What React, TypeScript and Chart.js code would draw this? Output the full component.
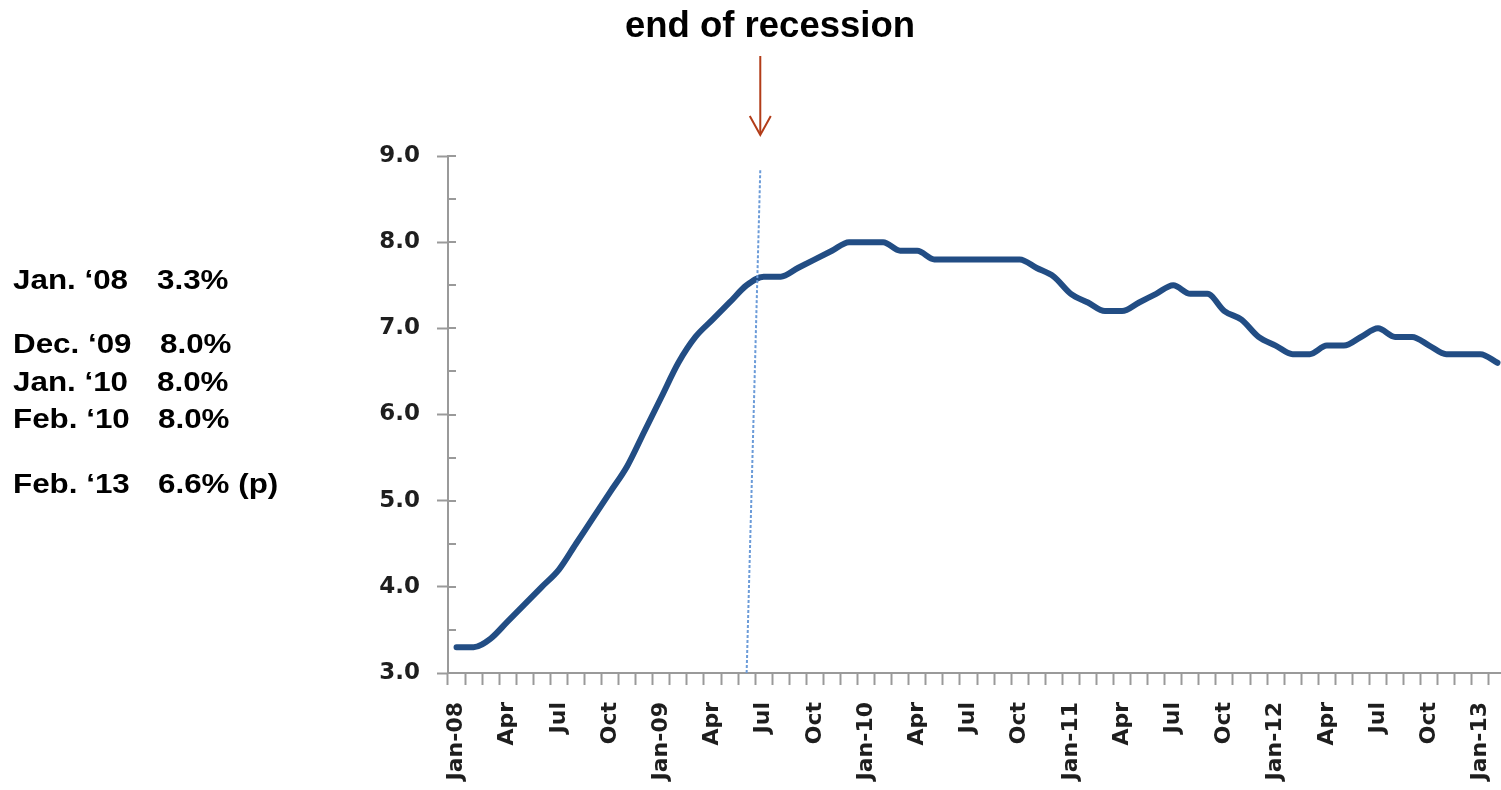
import React, { useEffect, useRef } from 'react';
import { Chart, registerables } from 'chart.js';

Chart.register(...registerables);

// ---------- DATA ----------
const categories = [
  'Jan-08', 'Feb-08', 'Mar-08', 'Apr-08', 'May-08', 'Jun-08', 'Jul-08', 'Aug-08', 'Sep-08', 'Oct-08', 'Nov-08', 'Dec-08',
  'Jan-09', 'Feb-09', 'Mar-09', 'Apr-09', 'May-09', 'Jun-09', 'Jul-09', 'Aug-09', 'Sep-09', 'Oct-09', 'Nov-09', 'Dec-09',
  'Jan-10', 'Feb-10', 'Mar-10', 'Apr-10', 'May-10', 'Jun-10', 'Jul-10', 'Aug-10', 'Sep-10', 'Oct-10', 'Nov-10', 'Dec-10',
  'Jan-11', 'Feb-11', 'Mar-11', 'Apr-11', 'May-11', 'Jun-11', 'Jul-11', 'Aug-11', 'Sep-11', 'Oct-11', 'Nov-11', 'Dec-11',
  'Jan-12', 'Feb-12', 'Mar-12', 'Apr-12', 'May-12', 'Jun-12', 'Jul-12', 'Aug-12', 'Sep-12', 'Oct-12', 'Nov-12', 'Dec-12',
  'Jan-13', 'Feb-13',
];

const tickLabels = [
  'Jan-08', '', '', 'Apr', '', '', 'Jul', '', '', 'Oct', '', '',
  'Jan-09', '', '', 'Apr', '', '', 'Jul', '', '', 'Oct', '', '',
  'Jan-10', '', '', 'Apr', '', '', 'Jul', '', '', 'Oct', '', '',
  'Jan-11', '', '', 'Apr', '', '', 'Jul', '', '', 'Oct', '', '',
  'Jan-12', '', '', 'Apr', '', '', 'Jul', '', '', 'Oct', '', '',
  'Jan-13', '',
];

const unemploymentRate = [
  3.3, 3.3, 3.4, 3.6, 3.8, 4.0, 4.2, 4.5, 4.8, 5.1, 5.4, 5.8,
  6.2, 6.6, 6.9, 7.1, 7.3, 7.5, 7.6, 7.6, 7.7, 7.8, 7.9, 8.0,
  8.0, 8.0, 7.9, 7.9, 7.8, 7.8, 7.8, 7.8, 7.8, 7.8, 7.7, 7.6,
  7.4, 7.3, 7.2, 7.2, 7.3, 7.4, 7.5, 7.4, 7.4, 7.2, 7.1, 6.9,
  6.8, 6.7, 6.7, 6.8, 6.8, 6.9, 7.0, 6.9, 6.9, 6.8, 6.7, 6.7,
  6.7, 6.6,
];

const yMin = 3;
const yMax = 9;
const yStep = 0.5;

// recession marker: bottom at Jun-09 on the axis, top slightly to the right
const recessionIndex = 17;
const recessionTopIndex = 17.8;
const recessionTopValue = 8.84;

const noteLabels = ['Jan. \u201808', 'Dec. \u201809', 'Jan. \u201810', 'Feb. \u201810', 'Feb. \u201813'];
const noteValues = ['3.3%', '8.0%', '8.0%', '8.0%', '6.6% (p)'];
const noteTops = [266, 330, 368, 405, 470];
const noteValueLefts = [157, 160, 157, 158, 158];

const titleText = 'end of recession';

// ---------- COMPONENT ----------
const CANVAS_W = 1510;
const CANVAS_H = 790;

export default function App() {
  const canvasRef = useRef<HTMLCanvasElement | null>(null);

  useEffect(() => {
    const canvas = canvasRef.current;
    if (!canvas) return;

    const axisGray = '#9a9a9a';

    const recessionPlugin = {
      id: 'recessionMarker',
      afterDatasetsDraw(chart: any) {
        const { ctx, scales } = chart;
        const xs = scales.x;
        const ys = scales.y;
        const xb = xs.getPixelForValue(recessionIndex);
        const yb = ys.getPixelForValue(yMin);
        const xt = xs.getPixelForValue(recessionTopIndex);
        const yt = ys.getPixelForValue(recessionTopValue);
        ctx.save();
        ctx.strokeStyle = '#6b9bd8';
        ctx.lineWidth = 2;
        ctx.setLineDash([3, 2]);
        ctx.beginPath();
        ctx.moveTo(xb, yb);
        ctx.lineTo(xt, yt);
        ctx.stroke();

        // arrow pointing down at the marker
        ctx.setLineDash([]);
        ctx.strokeStyle = '#b23c18';
        ctx.lineWidth = 2;
        ctx.beginPath();
        ctx.moveTo(xt, 56);
        ctx.lineTo(xt, 134);
        ctx.stroke();
        ctx.beginPath();
        ctx.moveTo(xt - 10.5, 116);
        ctx.lineTo(xt, 135);
        ctx.lineTo(xt + 10.5, 116);
        ctx.stroke();
        ctx.restore();
      },
    };

    const yRightTicks = {
      id: 'yRightTicks',
      afterDraw(chart: any) {
        const { ctx, scales } = chart;
        const ys = scales.y;
        const left = chart.chartArea.left;
        ctx.save();
        ctx.strokeStyle = axisGray;
        ctx.lineWidth = 2;
        ys.ticks.forEach((t: any) => {
          const py = Math.round(ys.getPixelForValue(t.value));
          ctx.beginPath();
          ctx.moveTo(left, py);
          ctx.lineTo(left + 8, py);
          ctx.stroke();
        });
        ctx.restore();
      },
    };

    const chart = new Chart(canvas, {
      type: 'line',
      data: {
        labels: categories,
        datasets: [
          {
            data: unemploymentRate,
            borderColor: '#224d84',
            borderWidth: 6,
            pointRadius: 0,
            cubicInterpolationMode: 'monotone',
            fill: false,
            borderJoinStyle: 'round',
            borderCapStyle: 'round',
          },
        ],
      },
      options: {
        responsive: false,
        animation: false,
        layout: { padding: { top: 156, right: 4, left: 0, bottom: 0 } },
        plugins: {
          legend: { display: false },
          tooltip: { enabled: false },
          title: { display: false },
        },
        scales: {
          x: {
            type: 'category',
            offset: true,
            grid: {
              offset: true,
              drawOnChartArea: false,
              drawTicks: true,
              tickLength: 12,
              tickColor: axisGray,
              tickWidth: 2,
            },
            border: { display: true, color: axisGray, width: 2 },
            ticks: {
              autoSkip: false,
              minRotation: 90,
              maxRotation: 90,
              padding: 17,
              color: '#1e1e1e',
              font: { family: 'DejaVu Sans', size: 22, weight: 'bold' },
              callback: (_v: any, i: number) => tickLabels[i],
            },
            afterFit: (scale: any) => {
              scale.height = 117;
              scale.paddingLeft = 0;
              scale.paddingRight = 0;
            },
          },
          y: {
            min: yMin,
            max: yMax,
            grid: {
              drawOnChartArea: false,
              drawTicks: true,
              tickLength: 11,
              tickWidth: 2,
              tickColor: (c: any) => (c.tick && Math.abs(c.tick.value % 1) < 1e-6 ? axisGray : 'rgba(0,0,0,0)'),
            },
            border: { display: true, color: axisGray, width: 2 },
            ticks: {
              stepSize: yStep,
              padding: 17,
              color: '#1e1e1e',
              font: { family: 'DejaVu Sans', size: 23, weight: 'bold' },
              callback: (v: any) => (Math.abs(Number(v) % 1) < 1e-6 ? Number(v).toFixed(1) : ''),
            },
            afterFit: (scale: any) => {
              scale.width = 448;
              scale.paddingTop = 0;
              scale.paddingBottom = 0;
            },
          },
        },
      },
      plugins: [recessionPlugin, yRightTicks],
    } as any);

    return () => {
      chart.destroy();
    };
  }, []);

  const noteFont: React.CSSProperties = {
    position: 'absolute',
    fontFamily: '"Liberation Sans", Arial, sans-serif',
    fontWeight: 'bold',
    fontSize: 28,
    lineHeight: '28px',
    color: '#000',
    whiteSpace: 'nowrap',
    transform: 'scaleX(1.12)',
    transformOrigin: 'left top',
  };

  return (
    <div
      style={{
        position: 'fixed',
        left: 0,
        top: 0,
        width: 1501,
        height: 790,
        overflow: 'hidden',
        background: '#fff',
      }}
    >
      <canvas
        ref={canvasRef}
        width={CANVAS_W}
        height={CANVAS_H}
        style={{ position: 'absolute', left: 0, top: 0, width: CANVAS_W, height: CANVAS_H }}
      />
      <div
        style={{
          position: 'absolute',
          left: 570,
          width: 400,
          top: 7,
          textAlign: 'center',
          fontFamily: '"Liberation Sans", Arial, sans-serif',
          fontWeight: 'bold',
          fontSize: 36.5,
          lineHeight: '36px',
          color: '#000',
          whiteSpace: 'nowrap',
        }}
      >
        {titleText}
      </div>
      {noteLabels.map((lab, i) => (
        <React.Fragment key={lab}>
          <div style={{ ...noteFont, left: 13, top: noteTops[i] }}>{lab}</div>
          <div style={{ ...noteFont, left: noteValueLefts[i], top: noteTops[i] }}>{noteValues[i]}</div>
        </React.Fragment>
      ))}
    </div>
  );
}
